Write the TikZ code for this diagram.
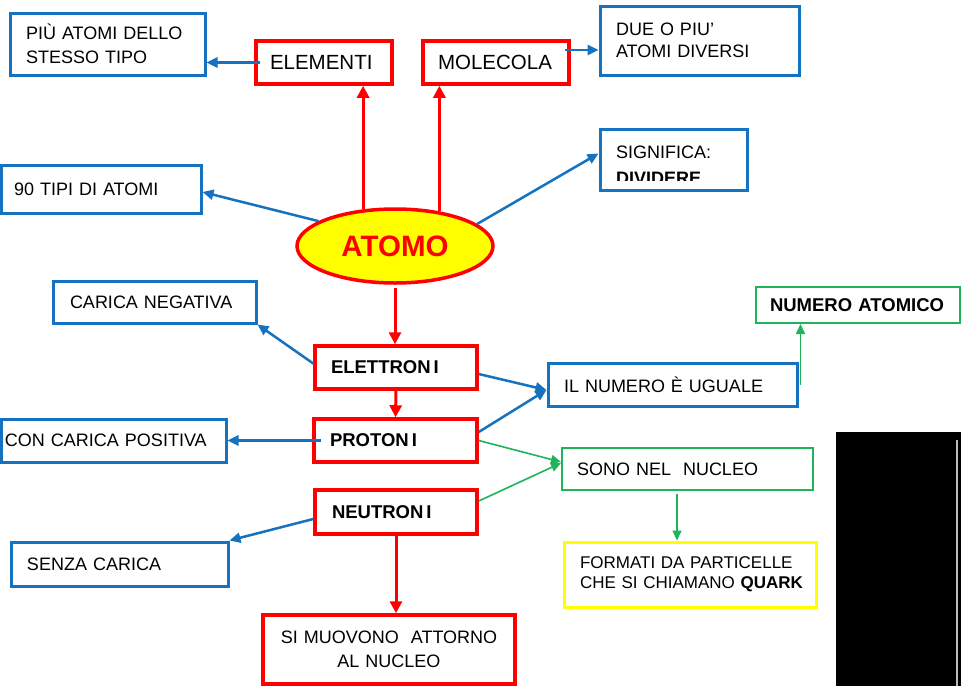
\documentclass[tikz,border=0pt]{standalone}
\usepackage{fontspec}
\setmainfont{Liberation Sans}
\usetikzlibrary{arrows.meta,shapes.geometric,calc}
\definecolor{cred}{RGB}{255,0,0}
\definecolor{cblue}{RGB}{20,114,192}
\definecolor{cgreen}{RGB}{30,180,90}
\definecolor{cyel}{RGB}{255,255,0}
\tikzset{
  tbox/.style={draw, inner sep=0pt, align=left, anchor=center, font=\fontsize{18}{24}\selectfont},
  redbox/.style={tbox, draw=cred, line width=3.5pt},
  bluebox/.style={tbox, draw=cblue, line width=3pt},
  greenbox/.style={tbox, draw=cgreen, line width=2pt},
  yelbox/.style={tbox, draw=cyel, line width=3pt},
  partfont/.style={font=\fontsize{18.5}{22}\selectfont\bfseries},
  redarrow/.style={draw=cred, line width=3pt, -{Triangle[length=12pt,width=12pt]}},
  bluearrow/.style={draw=cblue, line width=2.5pt, -{Triangle[length=11pt,width=10pt]}},
  greenarrow/.style={draw=cgreen, line width=1.6pt, -{Triangle[length=10pt,width=9pt]}},
}
\begin{document}
\begin{tikzpicture}[x=1pt,y=-1pt]
\useasboundingbox (0,0) rectangle (961,686);
\fill[white] (0,0) rectangle (961,686);
\fill[black] (836,432) rectangle (961,686);
\draw[gray!55, line width=2pt] (957,440) -- (957,686);

% nodes
\node[bluebox, minimum width=195pt, minimum height=62pt, text width=163pt] (piu) at (107.5,44) {\mbox{PIÙ ATOMI DELLO}\\\mbox{STESSO TIPO}};
\node[redbox, minimum width=136pt, minimum height=43pt, text width=108pt, font=\fontsize{20.5}{24}\selectfont] (elem) at (324,62.5) {\mbox{ELEMENTI}};
\node[redbox, minimum width=146pt, minimum height=43pt, text width=116pt, font=\fontsize{20.5}{24}\selectfont] (mol) at (496,62.5) {\mbox{MOLECOLA}};
\node[bluebox, minimum width=199pt, minimum height=69pt, text width=167pt, font=\fontsize{18}{22}\selectfont] (due) at (699.5,40.5) {\mbox{DUE O PIU’}\\\mbox{ATOMI DIVERSI}};
\node[bluebox, minimum width=200pt, minimum height=48pt, text width=174pt] (tipi) at (101,189) {\mbox{90 TIPI DI ATOMI}};
\node[bluebox, minimum width=147pt, minimum height=61pt] (sig) at (673.5,159.5) {};
\node[anchor=base west, inner sep=0pt, font=\fontsize{18}{24}\selectfont] (sigt) at (616,158) {SIGNIFICA:};
\begin{scope}
\clip (600,129) rectangle (747,180);
\node[anchor=base west, inner sep=0pt, font=\fontsize{18}{24}\selectfont\bfseries] (sigd) at (616,184.5) {DIVIDERE};
\end{scope}

\node[ellipse, draw=cred, fill=cyel, line width=3.5pt, minimum width=196pt, minimum height=74pt, inner sep=0pt, text=cred, font=\fontsize{29.5}{32}\selectfont\bfseries] (atomo) at (395,246) {ATOMO};

\node[bluebox, minimum width=203pt, minimum height=42pt, text width=169pt] (neg) at (154.5,302) {\mbox{CARICA NEGATIVA}};
\node[redbox, minimum width=162pt, minimum height=43pt, text width=130pt, partfont] (elet) at (396,367.5) {\mbox{ELETTRON\hspace{3pt}I}};
\node[redbox, minimum width=163pt, minimum height=43pt, text width=131pt, partfont] (prot) at (395.5,440.5) {\mbox{PROTON\hspace{3pt}I}};
\node[bluebox, minimum width=225pt, minimum height=43pt, text width=217pt] (pos) at (113.5,440.5) {\mbox{CON CARICA POSITIVA}};
\node[bluebox, minimum width=249pt, minimum height=43pt, text width=217pt] (ilnum) at (672.5,384.5) {\mbox{IL NUMERO È UGUALE}};
\node[greenbox, minimum width=204pt, minimum height=36pt, text width=176pt, partfont] (numat) at (858,305) {\mbox{NUMERO ATOMICO}};
\node[greenbox, minimum width=251pt, minimum height=42pt, text width=221pt] (sono) at (687.5,469) {\mbox{SONO NEL\ \ NUCLEO}};
\node[redbox, minimum width=162pt, minimum height=44pt, text width=128pt, partfont] (neut) at (396,512) {\mbox{NEUTRON\hspace{3pt}I}};
\node[bluebox, minimum width=217pt, minimum height=44pt, text width=185pt] (senza) at (119.5,564) {\mbox{SENZA CARICA}};
\node[redbox, minimum width=252pt, minimum height=69pt, text width=240pt, align=center] (muov) at (389,649.5) {SI MUOVONO\ \ ATTORNO\\AL NUCLEO};
\node[yelbox, minimum width=252pt, minimum height=65pt, text width=220pt, font=\fontsize{17}{20}\selectfont] (form) at (690,574.5) {\mbox{FORMATI DA PARTICELLE}\\\mbox{CHE SI CHIAMANO \textbf{QUARK}}};

% connectors
\draw[redarrow] (atomo.131) -- (atomo.131 |- elem.south);
\draw[redarrow] (atomo.38) -- (atomo.38 |- mol.south);
\draw[bluearrow] ([xshift=6pt]elem.west) -- (elem.west -| piu.east);
\coordinate (m1) at ([xshift=-6pt,yshift=12.5pt]mol.east);
\draw[bluearrow] (m1) -- (m1 -| due.west);
\draw[bluearrow] (atomo.162) -- ([yshift=-3pt]tipi.east);
\draw[bluearrow] (atomo.15) -- ([yshift=6pt]sig.west);
\draw[redarrow] ([yshift=-3pt]atomo.south) -- (atomo.south |- elet.north);
\draw[bluearrow] ([yshift=4pt]elet.west) -- (neg.south east);
\draw[redarrow] (elet.south) -- (prot.north);
\draw[bluearrow] ([yshift=-6.5pt]elet.east) -- ([yshift=-5.5pt]ilnum.west);
\draw[bluearrow] ([yshift=8.5pt]prot.east) -- ([yshift=-5.5pt]ilnum.west);
\draw[bluearrow] ([xshift=9pt]prot.west) -- (pos.east);
\draw[greenarrow] (prot.east) -- ([yshift=7pt]sono.west);
\draw[greenarrow] ([yshift=11pt]neut.east) -- ([yshift=6pt]sono.west);
\draw[greenarrow] ([xshift=2pt]ilnum.east) -- ([xshift=2pt]ilnum.east |- numat.south);
\draw[bluearrow] ([yshift=-7pt]neut.west) -- (senza.north east);
\draw[redarrow] (neut.south) -- (neut.south |- muov.north);
\coordinate (s1) at ([xshift=-10.5pt,yshift=-3pt]sono.south);
\draw[greenarrow] (s1) -- (s1 |- form.north);
\end{tikzpicture}
\end{document}
